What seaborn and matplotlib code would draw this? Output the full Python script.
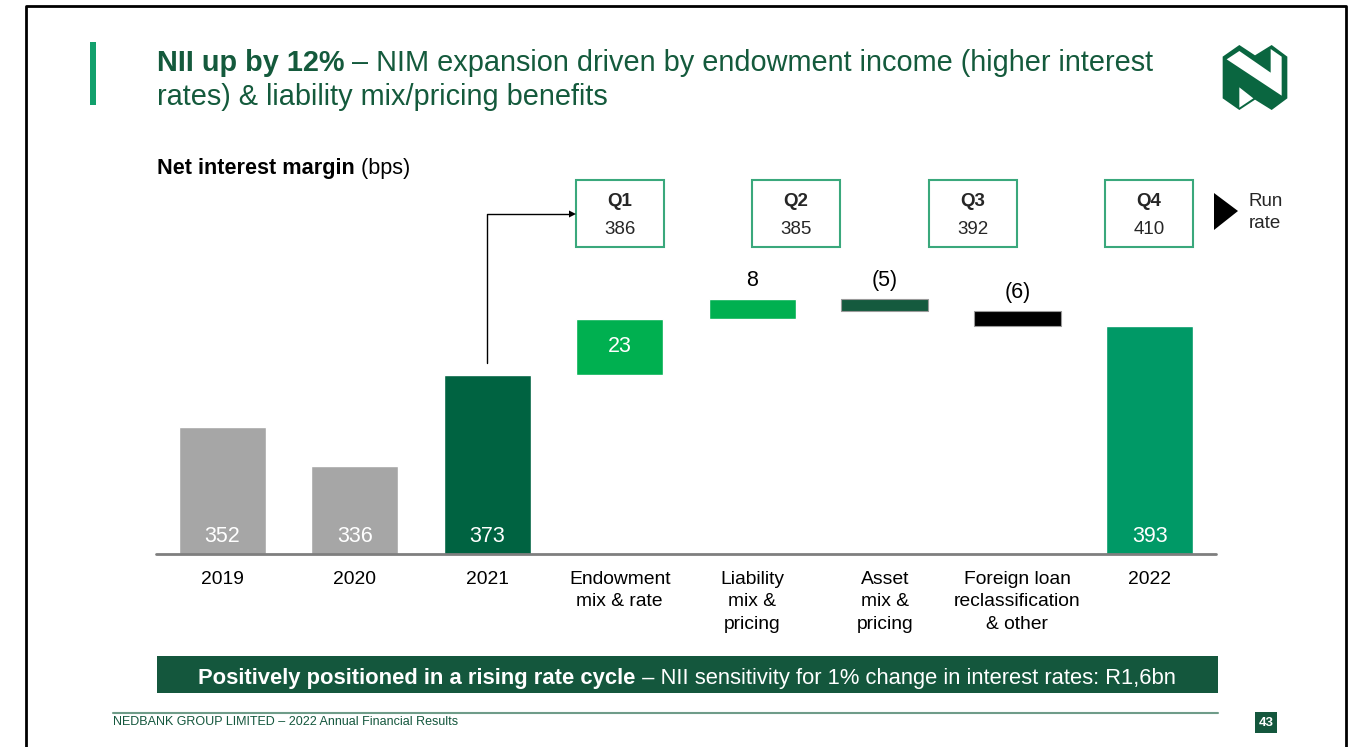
import matplotlib
matplotlib.use("Agg")
import matplotlib.pyplot as plt
from matplotlib.patches import Rectangle, Polygon
from matplotlib.lines import Line2D
import seaborn as sns
import pandas as pd

# ---- data -------------------------------------------------------------
categories = ["2019", "2020", "2021", "Endowment\nmix & rate", "Liability\nmix &\npricing",
              "Asset\nmix &\npricing", "Foreign loan\nreclassification\n& other", "2022"]
bar_kind = ["total", "total", "total", "delta", "delta", "delta", "delta", "total"]
bar_values = [352, 336, 373, 23, 8, -5, -6, 393]
bar_colors = ["#a6a6a6", "#a6a6a6", "#006341", "#00b050", "#00b050", "#155a3e", "#000000", "#009966"]
quarters = ["Q1", "Q2", "Q3", "Q4"]
quarter_nim = [386, 385, 392, 410]

# ---- figure & pixel helpers ---------------------------------------------
W, H = 1358, 747
sns.set_theme(style="white")
plt.rcParams["font.family"] = ["Liberation Sans", "DejaVu Sans"]
fig = plt.figure(figsize=(W / 100, H / 100), dpi=100)
fig.patch.set_facecolor("white")
TF = fig.transFigure


def P(x, y):
    return (x / W, 1 - y / H)


def rect(x0, y0, x1, y1, **kw):
    fig.patches.append(Rectangle(P(x0, y1), (x1 - x0) / W, (y1 - y0) / H, transform=TF, **kw))


def line(xs, ys, **kw):
    fig.lines.append(Line2D([x / W for x in xs], [1 - y / H for y in ys], transform=TF, **kw))


def rich(x, y, parts, size, color, ha="left"):
    """Draw consecutive text runs [(text, weight), ...] on one baseline."""
    r = fig.canvas.get_renderer()
    widths = []
    for txt, wt in parts:
        t = fig.text(0, 0, txt, fontsize=size, fontweight=wt)
        widths.append(t.get_window_extent(r).width)
        t.remove()
    total = sum(widths)
    cx = x - total / 2 if ha == "center" else x
    for (txt, wt), w in zip(parts, widths):
        fig.text(*P(cx, y), txt, fontsize=size, fontweight=wt, color=color,
                 ha="left", va="center_baseline")
        cx += w


# ---- slide frame --------------------------------------------------------
line([26, 26, 1346, 1346], [747, 6, 6, 747], color="black", lw=2)

# ---- heading ------------------------------------------------------------
title_green = "#145a3c"
rect(90, 42, 96, 105, color="#12a06c", lw=0)
rich(157, 60, [("NII up by 12%", "bold"),
               (" \u2013 NIM expansion driven by endowment income (higher interest", "normal")],
     20.75, title_green)
rich(157, 94, [("rates) & liability mix/pricing benefits", "normal")], 20.75, title_green)

# logo
logo_dark = "#0a6640"
outer = [(68, 80), (118, 45), (165, 76), (215, 45), (262, 80), (262, 205),
         (215, 240), (165, 209), (118, 240), (68, 205)]
band = [(80, 88), (118, 63), (212, 128), (212, 57), (245, 80), (245, 197)]
notch = [(118, 172), (160, 205), (118, 233)]
for pts, col in [(outer, logo_dark), (band, "white"), (notch, "white")]:
    fig.patches.append(Polygon([P(1200 + px / 3, 30 + py / 3) for px, py in pts],
                               closed=True, transform=TF, color=col, lw=0))

rich(157, 166, [("Net interest margin", "bold"), (" (bps)", "normal")], 15.6, "black")

# ---- waterfall ---------------------------------------------------------
base_y, top_px, px_per_bp = 554, 170, 2.45
y0 = 300
ax = fig.add_axes([156 / W, 1 - base_y / H, (1216 - 156) / W, (base_y - top_px) / H])

bottoms, tops, labels = [], [], []
running = 0
for kind, v in zip(bar_kind, bar_values):
    if kind == "total":
        bottoms.append(0)
        tops.append(v)
        running = v
        labels.append(str(v))
    else:
        lo, hi = sorted((running, running + v))
        bottoms.append(lo)
        tops.append(hi)
        running += v
        labels.append(str(v) if v >= 0 else f"({-v})")

df = pd.DataFrame({"category": categories, "top": tops})
sns.barplot(data=df, x="category", y="top", hue="category", order=categories,
            hue_order=categories, palette=dict(zip(categories, bar_colors)),
            width=0.657, saturation=1, legend=False, ax=ax)

for p in ax.patches:
    i = int(round(p.get_x() + p.get_width() / 2))
    p.set_y(bottoms[i])
    p.set_height(tops[i] - bottoms[i])
    if bar_kind[i] == "delta" and bar_values[i] < 0:
        p.set_edgecolor("#9a9a9a")
        p.set_linewidth(0.8)

ax.set_ylim(y0, y0 + (base_y - top_px) / px_per_bp)
ax.set_xlim(-0.5, len(categories) - 0.5)
for s in ax.spines.values():
    s.set_visible(False)
ax.axhline(y0, color="#7f7f7f", lw=2, clip_on=False)
ax.set_yticks([])
ax.set_xlabel("")
ax.set_ylabel("")
ax.tick_params(axis="x", length=0, pad=12, labelsize=13.9, labelcolor="black")
ax.set_xticks(range(len(categories)))
ax.set_xticklabels(categories, linespacing=1.42, va="top")
ax.set_facecolor("none")

for i, (kind, lab) in enumerate(zip(bar_kind, labels)):
    if kind == "total":
        ax.annotate(lab, (i, y0), xytext=(0, 17), textcoords="offset pixels",
                    ha="center", va="center", color="white", fontsize=15.5)
    elif tops[i] - bottoms[i] >= 15:
        ax.text(i, (tops[i] + bottoms[i]) / 2, lab, ha="center", va="center",
                color="white", fontsize=15.5)
    else:
        ax.annotate(lab, (i, tops[i]), xytext=(0, 8), textcoords="offset pixels",
                    ha="center", va="bottom", color="black", fontsize=15.5)

# ---- quarterly run-rate boxes -------------------------------------------
box_x = [576, 752, 929, 1105]
for bx, q, v in zip(box_x, quarters, quarter_nim):
    rect(bx, 180, bx + 88, 247, facecolor="white", edgecolor="#3aa87c", lw=1.5)
    fig.text(*P(bx + 44, 201), q, ha="center", va="center", fontsize=13.5, fontweight="bold")
    fig.text(*P(bx + 44, 229), str(v), ha="center", va="center", fontsize=13.5)

fig.patches.append(Polygon([P(1214, 193), P(1238, 211), P(1214, 230)], closed=True,
                           transform=TF, color="black", lw=0))
fig.text(*P(1249, 201), "Run", ha="left", va="center", fontsize=13.5)
fig.text(*P(1249, 224), "rate", ha="left", va="center", fontsize=13.5)

# elbow arrow from 2021 bar to the Q1 box
line([487, 487, 570], [363, 214, 214], color="black", lw=1)
fig.patches.append(Polygon([P(576, 214), P(569, 210.5), P(569, 217.5)], closed=True,
                           transform=TF, color="black", lw=0))

# ---- banner & footer ----------------------------------------------------
banner = "#14573d"
rect(157, 656, 1218, 693, color=banner, lw=0)
rich(687, 676, [("Positively positioned in a rising rate cycle", "bold"),
                (" \u2013 NII sensitivity for 1% change in interest rates: R1,6bn", "normal")],
     15.8, "white", ha="center")

line([113, 1218], [713, 713], color="#6f9c89", lw=1.5)
fig.text(*P(113, 722), "NEDBANK GROUP LIMITED \u2013 2022 Annual Financial Results",
         ha="left", va="center", fontsize=9, color="#14573d")
rect(1255, 712, 1277, 733, color=banner, lw=0)
fig.text(*P(1266, 722.5), "43", ha="center", va="center", fontsize=9.5,
         fontweight="bold", color="white")

fig.savefig("out.png", dpi=100, facecolor="white")
